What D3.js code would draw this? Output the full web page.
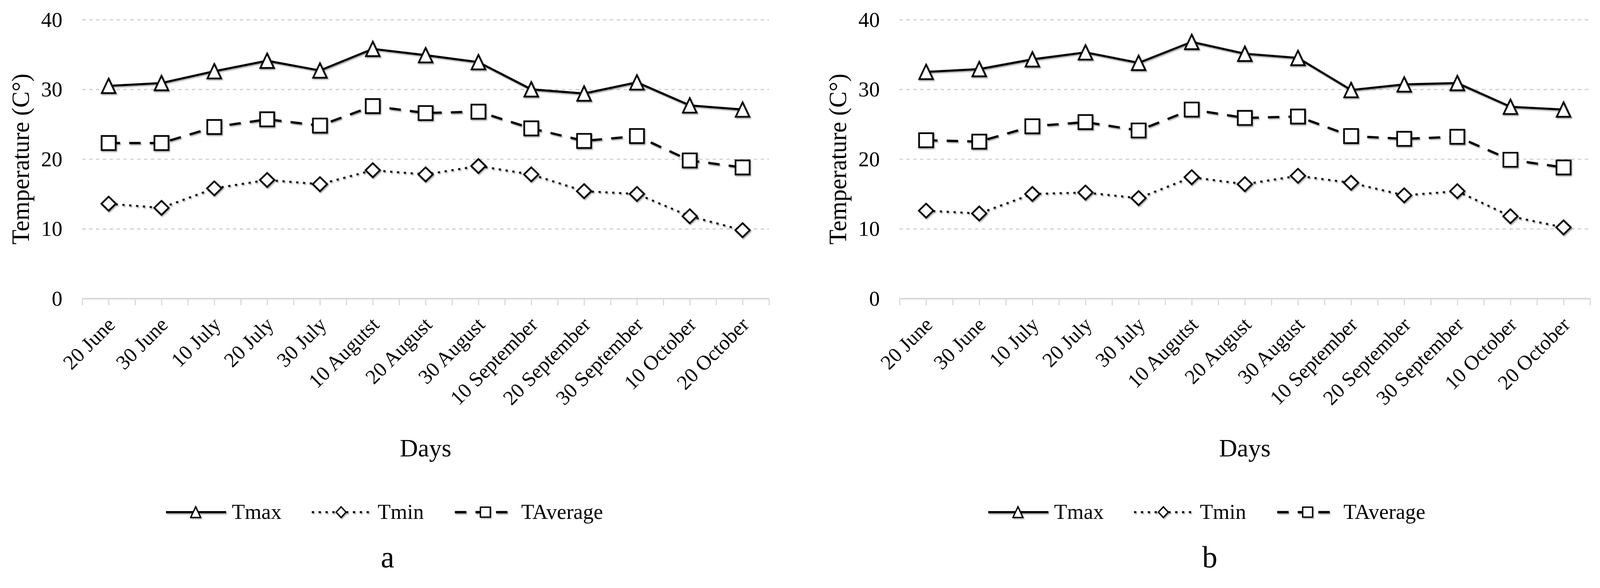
<!DOCTYPE html>
<html>
<head>
<meta charset="utf-8">
<script src="https://cdnjs.cloudflare.com/ajax/libs/d3/7.8.5/d3.min.js"></script>
<style>
  html, body { margin: 0; padding: 0; width: 100%; height: 100%; overflow: hidden; background: #fff; }
  #chart, svg { display: block; }
  text { font-family: "Liberation Serif", "DejaVu Serif", serif; fill: #000; }
</style>
</head>
<body>
<div id="chart"></div>
<script>
// data
var days = ["20 June", "30 June", "10 July", "20 July", "30 July", "10 Augutst", "20 August",
            "30 August", "10 September", "20 September", "30 September", "10 October", "20 October"];
var yTicks = [0, 10, 20, 30, 40];
var seriesNames = ["Tmax", "Tmin", "TAverage"];
var panelTags = ["a", "b"];

var tmaxA = [30.5, 30.9, 32.6, 34.1, 32.7, 35.8, 34.9, 33.9, 30.0, 29.4, 31.0, 27.7, 27.1];
var tminA = [13.6, 13.0, 15.8, 17.0, 16.4, 18.4, 17.8, 19.0, 17.8, 15.4, 15.0, 11.8, 9.8];
var tavgA = [22.3, 22.3, 24.6, 25.7, 24.8, 27.6, 26.6, 26.8, 24.4, 22.6, 23.3, 19.8, 18.8];

var tmaxB = [32.5, 32.9, 34.3, 35.3, 33.8, 36.8, 35.1, 34.5, 29.9, 30.7, 30.9, 27.5, 27.1];
var tminB = [12.6, 12.2, 15.0, 15.2, 14.4, 17.4, 16.4, 17.6, 16.6, 14.8, 15.4, 11.8, 10.2];
var tavgB = [22.7, 22.5, 24.7, 25.3, 24.1, 27.1, 25.9, 26.1, 23.3, 22.9, 23.2, 19.9, 18.8];

// size
var width = 4203;
var height = 1506;

var svg = d3.select("#chart")
            .append("svg")
            .attr("width", "100%")
            .attr("height", "100vh")
            .attr("viewBox", "0 0 " + width + " " + height)
            .attr("preserveAspectRatio", "xMinYMin meet");

svg.append("rect")
   .attr("width", width)
   .attr("height", height)
   .attr("fill", "#fff");

// soft shadow like the office chart
svg.append("defs")
   .append("filter")
   .attr("id", "shadow")
   .attr("x", "-20%").attr("y", "-20%")
   .attr("width", "140%").attr("height", "140%")
   .append("feDropShadow")
   .attr("dx", 2).attr("dy", 3)
   .attr("stdDeviation", 1.5)
   .attr("flood-color", "#000")
   .attr("flood-opacity", 0.35);

// line styles per series
var styles = {
  Tmax: {dash: null, width: 5.5, marker: "M0,-19L18,19L-18,19Z", legend: "M0,-14L13,14L-13,14Z"},
  Tmin: {dash: "6,12", width: 5, marker: "M0,-18.5L19,0L0,18.5L-19,0Z", legend: "M0,-14L13,0L0,14L-13,0Z"},
  TAverage: {dash: "30,24", width: 6, marker: "M-18.5,-18.5H18.5V18.5H-18.5Z", legend: "M-13,-13H13V13H-13Z"}
};

function drawPanel(left, right, shift, values, tag) {
  var g = svg.append("g");

  var x = d3.scaleLinear().domain([0, days.length]).range([left, right]);
  var y = d3.scaleLinear().domain([0, 40]).range([784.5, 51.5]);

  // dotted grid
  g.append("g")
   .attr("transform", "translate(" + left + ",0)")
   .call(d3.axisLeft(y).tickValues(yTicks.slice(1)).tickSize(-(right - left)).tickFormat(""))
   .call(function(a) { a.select(".domain").remove(); })
   .selectAll("line")
   .attr("stroke", "#cfcfcf")
   .attr("stroke-width", 3)
   .attr("stroke-dasharray", "9,9");

  // y labels
  g.selectAll(".ylab")
   .data(yTicks)
   .enter()
   .append("text")
   .attr("x", left - 52)
   .attr("y", function(d) { return y(d); })
   .attr("text-anchor", "end")
   .attr("dominant-baseline", "central")
   .style("font-size", "56px")
   .text(function(d) { return d; });

  // category axis, ticks at bounds and centres
  var xa = g.append("g")
            .attr("transform", "translate(0," + y(0) + ")")
            .call(d3.axisBottom(x).tickValues(d3.range(0, days.length + 0.25, 0.5))
                                  .tickSize(18).tickSizeOuter(0).tickFormat(""));
  xa.select(".domain").attr("stroke", "#d9d9d9").attr("stroke-width", 4);
  xa.selectAll(".tick line").attr("stroke", "#d9d9d9").attr("stroke-width", 3);

  g.selectAll(".xlab")
   .data(days)
   .enter()
   .append("text")
   .attr("transform", function(d, i) {
     return "translate(" + (x(i + 0.5) + 20) + "," + (y(0) + 72) + ") rotate(-45)";
   })
   .attr("text-anchor", "end")
   .style("font-size", "54px")
   .text(function(d) { return d; });

  // axis titles
  g.append("text")
   .attr("transform", "translate(" + (left - 162) + "," + ((y(0) + y(40)) / 2) + ") rotate(-90)")
   .attr("text-anchor", "middle")
   .attr("dominant-baseline", "central")
   .style("font-size", "64px")
   .text("Temperature (C°)");

  g.append("text")
   .attr("x", (left + right) / 2)
   .attr("y", 1200)
   .attr("text-anchor", "middle")
   .style("font-size", "66px")
   .text("Days");

  // series
  var line = d3.line()
               .x(function(d, i) { return x(i + 0.5); })
               .y(function(d) { return y(d); });

  seriesNames.forEach(function(name, k) {
    var s = styles[name];
    var vals = values[k];
    var sg = g.append("g").attr("filter", "url(#shadow)");
    sg.append("path")
      .datum(vals)
      .attr("d", line)
      .attr("fill", "none")
      .attr("stroke", "#000")
      .attr("stroke-width", s.width)
      .attr("stroke-dasharray", s.dash);
    sg.selectAll(".mk")
      .data(vals)
      .enter()
      .append("path")
      .attr("transform", function(d, i) { return "translate(" + x(i + 0.5) + "," + y(d) + ")"; })
      .attr("d", s.marker)
      .attr("fill", "#fff")
      .attr("stroke", "#000")
      .attr("stroke-width", 4.5);
  });

  // legend
  var legX = [[436, 594, 514, 609], [819, 978, 896, 992], [1195, 1333, 1275, 1369]];
  seriesNames.forEach(function(name, k) {
    var s = styles[name];
    var p = legX[k];
    var lg = g.append("g").attr("filter", "url(#shadow)");
    lg.append("line")
      .attr("x1", p[0] + shift).attr("x2", p[1] + shift)
      .attr("y1", 1346).attr("y2", 1346)
      .attr("stroke", "#000")
      .attr("stroke-width", s.width)
      .attr("stroke-dasharray", s.dash);
    lg.append("path")
      .attr("transform", "translate(" + (p[2] + shift) + ",1346)")
      .attr("d", s.legend)
      .attr("fill", "#fff")
      .attr("stroke", "#000")
      .attr("stroke-width", 3.5);
    g.append("text")
     .attr("x", p[3] + shift)
     .attr("y", 1364)
     .style("font-size", "56px")
     .text(name);
  });

  g.append("text")
   .attr("x", 1018 + shift)
   .attr("y", 1491)
   .attr("text-anchor", "middle")
   .style("font-size", "80px")
   .text(tag);
}

drawPanel(216, 2020, 0, [tmaxA, tminA, tavgA], panelTags[0]);
drawPanel(2363, 4177, 2160, [tmaxB, tminB, tavgB], panelTags[1]);
</script>
</body>
</html>
